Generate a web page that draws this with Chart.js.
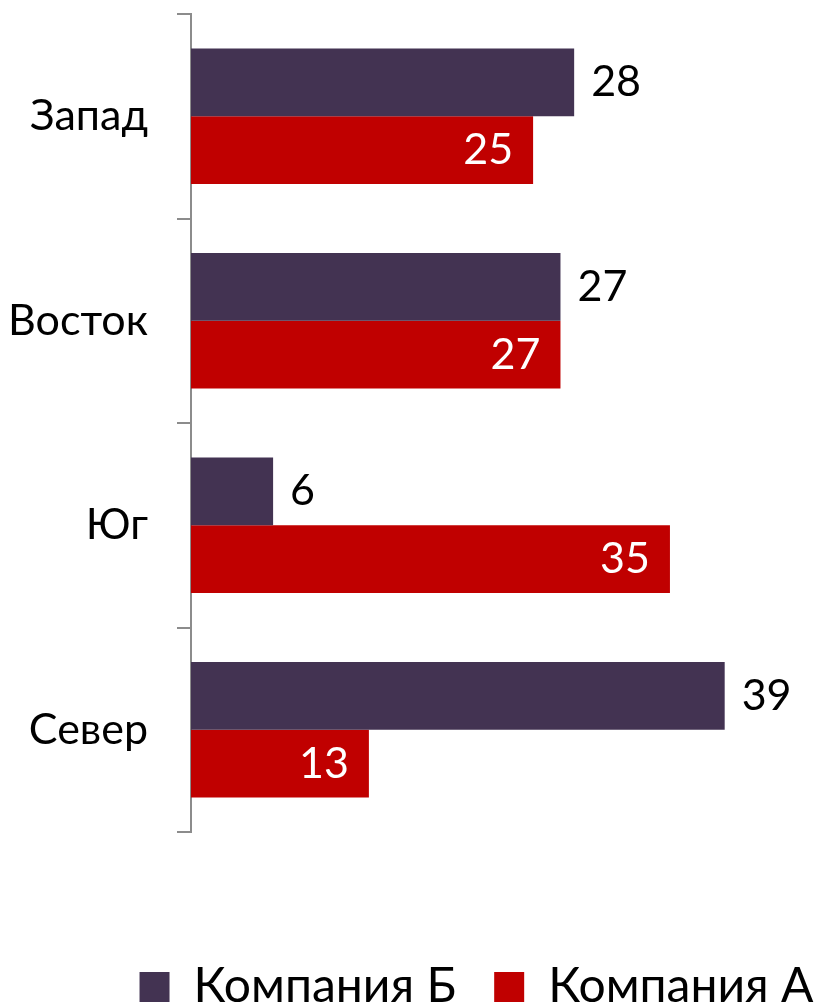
<!DOCTYPE html>
<html>
<head>
<meta charset="utf-8">
<script src="https://cdn.jsdelivr.net/npm/chart.js@4"></script>
<style>
  html, body { margin: 0; padding: 0; background: #fff; }
  #wrap { width: 815px; height: 1006px; position: relative; }
</style>
</head>
<body>
<div id="wrap"><canvas id="chart"></canvas></div>
<script>
const regions = ['Запад', 'Восток', 'Юг', 'Север'];
const companyB = [28, 27, 6, 39];
const companyA = [25, 27, 35, 13];
const seriesNames = ['Компания Б', 'Компания А'];

const FONT = 'Lato';

// value labels: Б outside the bar end (black), А inside the bar end (white)
const valueLabels = {
  id: 'valueLabels',
  afterDatasetsDraw(chart) {
    const ctx = chart.ctx;
    ctx.save();
    ctx.font = `43px ${FONT}`;
    ctx.textBaseline = 'middle';
    chart.data.datasets.forEach((ds, i) => {
      const meta = chart.getDatasetMeta(i);
      meta.data.forEach((bar, j) => {
        const v = ds.data[j];
        if (i === 0) {
          ctx.fillStyle = '#000';
          ctx.textAlign = 'left';
          ctx.fillText(v, bar.x + 17, bar.y);
        } else {
          ctx.fillStyle = '#fff';
          ctx.textAlign = 'right';
          ctx.fillText(v, bar.x - 20, bar.y);
        }
      });
    });
    ctx.restore();
  }
};

new Chart(document.getElementById('chart'), {
  type: 'bar',
  data: {
    labels: regions,
    datasets: [
      { label: seriesNames[0], data: companyB, backgroundColor: '#433352' },
      { label: seriesNames[1], data: companyA, backgroundColor: '#C00000' }
    ]
  },
  options: {
    indexAxis: 'y',
    responsive: true,
    maintainAspectRatio: false,
    animation: false,
    // negative right padding pushes the legend centre left to where the original sits
    layout: { padding: { top: 14, right: -138, bottom: -15, left: 0 } },
    datasets: {
      bar: { categoryPercentage: 0.663, barPercentage: 1.0 }
    },
    scales: {
      x: { display: false, min: 0, max: 45.6 },
      y: {
        afterFit: (scale) => {
          scale.width = 191;
          scale.paddingTop = 0;
          scale.paddingBottom = 0;
        },
        border: { display: true, color: '#8c8c8c', width: 2 },
        grid: {
          offset: true,
          drawOnChartArea: false,
          drawTicks: true,
          tickLength: 14,
          color: '#8c8c8c',
          lineWidth: 2
        },
        ticks: {
          color: '#000',
          padding: 29,
          font: { family: FONT, size: 43 }
        }
      }
    },
    plugins: {
      legend: {
        position: 'bottom',
        align: 'center',
        title: { display: true, text: ' ', font: { size: 10 }, padding: { top: 0, bottom: 81 } },
        labels: {
          color: '#000',
          boxWidth: 30,
          boxHeight: 30,
          padding: 38,
          font: { family: FONT, size: 48 }
        }
      },
      tooltip: { enabled: false }
    }
  },
  plugins: [valueLabels]
});
</script>
</body>
</html>
